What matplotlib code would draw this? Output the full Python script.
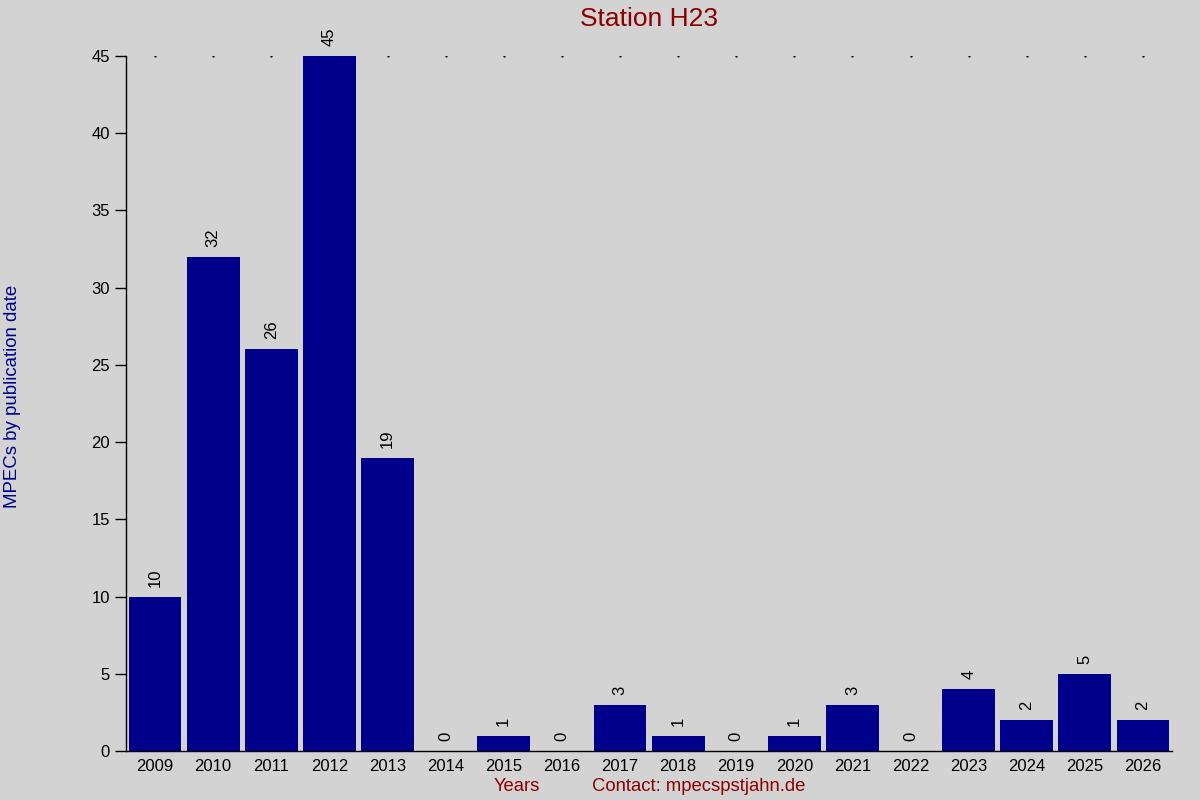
import matplotlib
matplotlib.use("Agg")
import matplotlib.pyplot as plt

years = ['2009', '2010', '2011', '2012', '2013', '2014', '2015', '2016', '2017',
         '2018', '2019', '2020', '2021', '2022', '2023', '2024', '2025', '2026']
counts = [10, 32, 26, 45, 19, 0, 1, 0, 3, 1, 0, 1, 3, 0, 4, 2, 5, 2]
yticks = [0, 5, 10, 15, 20, 25, 30, 35, 40, 45]

plt.rcParams['font.family'] = ['Liberation Sans', 'DejaVu Sans']

fig = plt.figure(figsize=(12, 8), dpi=100, facecolor='#d3d3d3')
ax = fig.add_axes([0.105, 0.06125, 0.8717, 0.86875])
ax.set_facecolor('#d3d3d3')

x = list(range(len(years)))
ax.bar(x, counts, width=0.91, color='#00008b', zorder=2)
for xi, c in zip(x, counts):
    ax.text(xi, c + 0.65, str(c), rotation=90, ha='center', va='bottom',
            fontsize=12, color='black')

# dots along the top line
ax.plot(x, [max(yticks)] * len(x), linestyle='none', marker='.', markersize=1.2,
        color='black', zorder=1)

ax.set_xlim(-0.5, len(years) - 0.5)
ax.set_ylim(0, 45)
ax.set_xticks(x)
ax.set_xticklabels(years, fontsize=12)
ax.set_yticks(yticks)
ax.tick_params(axis='y', direction='out', length=8, labelsize=12, width=1)
ax.tick_params(axis='x', length=0, pad=6)

for s in ['top', 'right']:
    ax.spines[s].set_visible(False)
ax.spines['left'].set_linewidth(1)
ax.spines['bottom'].set_linewidth(1)

fig.text(0.541, 0.976, 'Station H23', ha='center', va='center', fontsize=19,
         color='#8b0000')
fig.text(0.0105, 0.504, 'MPECs by publication date', rotation=90, ha='center',
         va='center', fontsize=13.4, color='#00008b')
fig.text(0.431, 0.017, 'Years', ha='center', va='center', fontsize=13.3,
         color='#8b0000')
fig.text(0.582, 0.017, 'Contact: mpecspstjahn.de', ha='center', va='center',
         fontsize=13.3, color='#8b0000')

fig.savefig('out.png', dpi=100, facecolor=fig.get_facecolor())
